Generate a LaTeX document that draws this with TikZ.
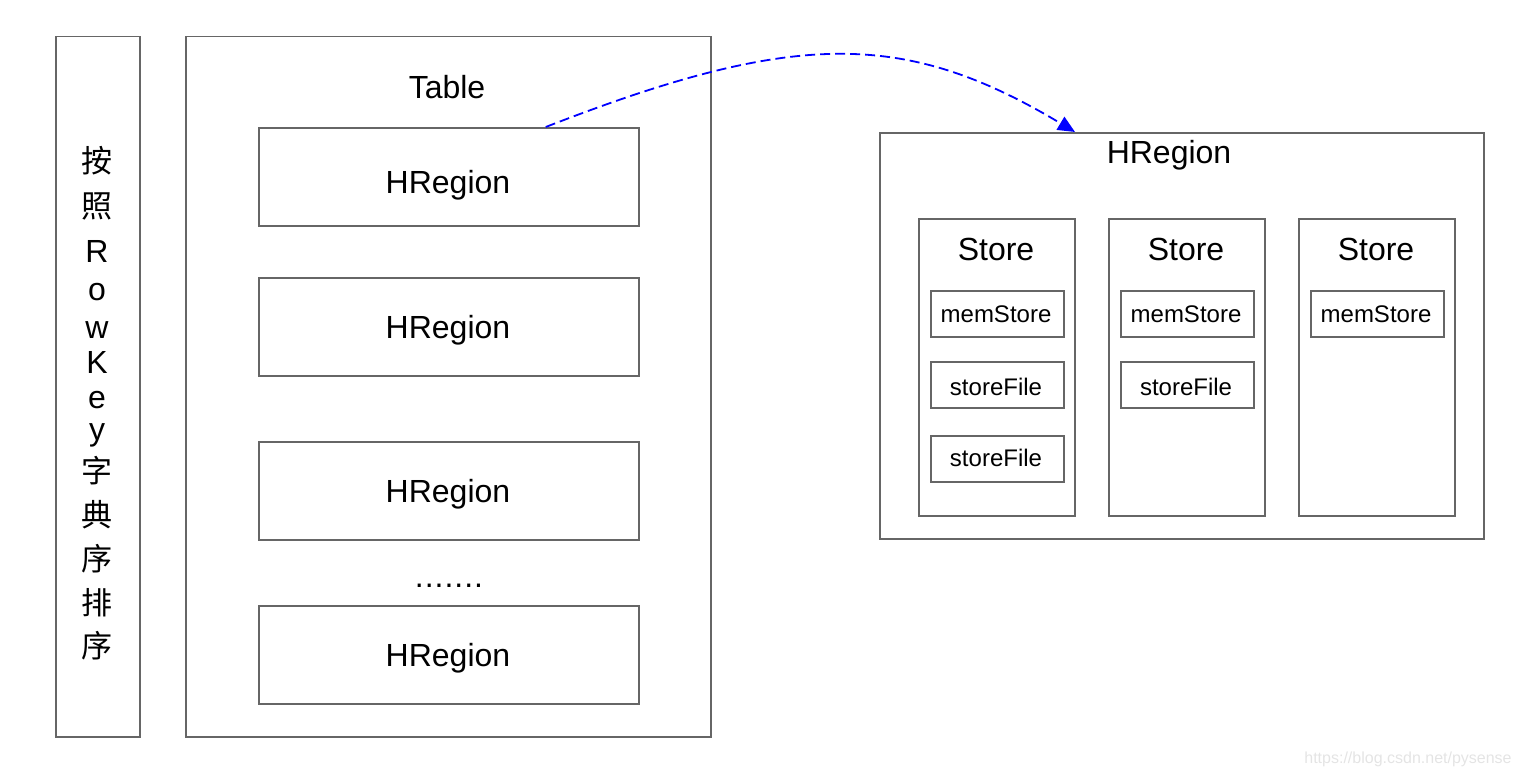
\documentclass[tikz,border=0pt]{standalone}
\usepackage{fontspec}
\setmainfont{Liberation Sans}
\newfontfamily\cjk{Noto Sans CJK SC}
\usetikzlibrary{arrows.meta}
\definecolor{boxgray}{HTML}{666666}
\definecolor{arrowblue}{HTML}{0000FF}
\definecolor{wmgray}{HTML}{E4E4E4}
\begin{document}
\begin{tikzpicture}[x=1pt,y=-1pt,
  box/.style={draw=boxgray, line width=1.5pt, inner sep=0pt, anchor=north west},
  bigtext/.style={font=\fontsize{32}{38}\selectfont, anchor=base, inner sep=0pt},
  smalltext/.style={font=\fontsize{24}{29}\selectfont, anchor=base, inner sep=0pt},
  latinchar/.style={font=\fontsize{32}{38}\selectfont, anchor=base, inner sep=0pt},
  cjkchar/.style={font=\cjk\fontsize{31}{37}\selectfont, anchor=center, inner sep=0pt},
  link/.style={draw=arrowblue, line width=1.8pt, dash pattern=on 10pt off 5pt,
    -{Triangle[length=17pt,width=15pt,fill=arrowblue]}}
]
\useasboundingbox (0,0) rectangle (1520,776);
% left key column
\node[box, minimum width=84pt, minimum height=700pt] (key) at (55,36) {};
\foreach \c/\y [count=\i] in {按/161,照/206,字/471,典/515,序/559,排/603,序/646}
  \node[cjkchar] (kc\i) at (97,\y) {\c};
\foreach \c/\y [count=\i] in {R/262,o/300,w/338,K/373,e/408,y/440}
  \node[latinchar] (lc\i) at (97,\y) {\c};
% table
\node[box, minimum width=525pt, minimum height=700pt] (table) at (185,36) {};
\node[bigtext] (tablelbl) at (447,98) {Table};
\node[box, minimum width=380pt, minimum height=98pt] (r1) at (258,127) {};
\node[box, minimum width=380pt, minimum height=98pt] (r2) at (258,277) {};
\node[box, minimum width=380pt, minimum height=98pt] (r3) at (258,441) {};
\node[box, minimum width=380pt, minimum height=98pt] (r4) at (258,605) {};
\node[bigtext] (r1lbl) at (448,193) {HRegion};
\node[bigtext] (r2lbl) at (448,338) {HRegion};
\node[bigtext] (r3lbl) at (448,502) {HRegion};
\node[bigtext] (r4lbl) at (448,666) {HRegion};
\node[bigtext] (dots) at (449,587) {.\kern1pt.\kern1pt.\kern1pt.\kern1pt.\kern1pt.\kern1pt.};
% region detail
\node[box, minimum width=604pt, minimum height=406pt] (hr) at (879,132) {};
\node[bigtext] (hrlbl) at (1169,163) {HRegion};
\node[box, minimum width=156pt, minimum height=297pt] (s1) at (918,218) {};
\node[box, minimum width=156pt, minimum height=297pt] (s2) at (1108,218) {};
\node[box, minimum width=156pt, minimum height=297pt] (s3) at (1298,218) {};
\node[bigtext] (s1lbl) at (996,260) {Store};
\node[bigtext] (s2lbl) at (1186,260) {Store};
\node[bigtext] (s3lbl) at (1376,260) {Store};
\node[box, minimum width=133pt, minimum height=46pt] (m1) at (930,290) {};
\node[box, minimum width=133pt, minimum height=46pt] (f11) at (930,361) {};
\node[box, minimum width=133pt, minimum height=46pt] (f12) at (930,435) {};
\node[box, minimum width=133pt, minimum height=46pt] (m2) at (1120,290) {};
\node[box, minimum width=133pt, minimum height=46pt] (f21) at (1120,361) {};
\node[box, minimum width=133pt, minimum height=46pt] (m3) at (1310,290) {};
\node[smalltext] (m1lbl) at (996,322) {memStore};
\node[smalltext] (f11lbl) at (996,395) {storeFile};
\node[smalltext] (f12lbl) at (996,466) {storeFile};
\node[smalltext] (m2lbl) at (1186,322) {memStore};
\node[smalltext] (f21lbl) at (1186,395) {storeFile};
\node[smalltext] (m3lbl) at (1376,322) {memStore};
% arrow
\draw[link] ([xshift=97pt]r1.north) .. controls (795,30) and (905,30) .. ([xshift=196pt]hr.north west);
% watermark
\node[anchor=base, inner sep=0pt, font=\fontsize{16}{19}\selectfont, text=wmgray] (wm) at (1408,763) {https://blog.csdn.net/pysense};
\end{tikzpicture}
\end{document}
